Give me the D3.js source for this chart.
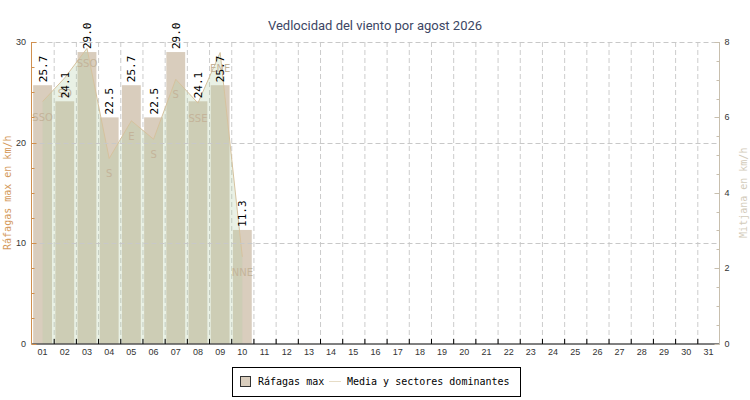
<!DOCTYPE html>
<html>
<head>
<meta charset="utf-8">
<script src="https://cdn.jsdelivr.net/npm/d3@7"></script>
<style>
  html, body { margin: 0; padding: 0; background: #fff; }
  svg { display: block; }
</style>
</head>
<body>
<svg id="chart" width="750" height="400"></svg>
<script>
// ---- data ----
const days = Array.from({length: 31}, (_, i) => String(i + 1).padStart(2, "0"));
const gustDays = ["01","02","03","04","05","06","07","08","09","10"];
const gustValues = [25.7, 24.1, 29.0, 22.5, 25.7, 22.5, 29.0, 24.1, 25.7, 11.3];
const meanValues = [6.42, 7.05, 7.83, 4.91, 5.91, 5.42, 7.01, 6.38, 7.72, 2.30];
const sectors = ["SSO", "SO", "SSO", "S", "E", "S", "S", "SSE", "ENE", "NNE"];
const leftTicks = [0, 10, 20, 30];
const rightTicks = [0, 2, 4, 6, 8];
const titleText = "Vedlocidad del viento por agost 2026";
const leftTitle = "Ráfagas max en km/h";
const rightTitle = "Mitjana en km/h";
const legendLabels = ["Ráfagas max", "Media y sectores dominantes"];

// ---- layout ----
const svg = d3.select("#chart");
const L = 31.5, R = 719.5, T = 42, B = 343.5;
const mono = "'DejaVu Sans Mono', monospace";

const x = d3.scaleBand().domain(days).range([L, R]).paddingInner(0.15).paddingOuter(0.075);
const xs = d3.scaleBand().domain(days).range([L, R]); // slots
const yL = d3.scaleLinear().domain([0, 30]).range([B, T]);
const yR = d3.scaleLinear().domain([0, 8]).range([B, T]);

// title
svg.append("text").attr("x", 375).attr("y", 30).attr("text-anchor", "middle")
  .attr("font-family", "Roboto, sans-serif").attr("font-size", 13).attr("fill", "#3c4664")
  .text(titleText);

// vertical grid
svg.append("g").selectAll("line").data(days.slice(1)).join("line")
  .attr("x1", d => xs(d) + 0.5).attr("x2", d => xs(d) + 0.5)
  .attr("y1", T).attr("y2", B)
  .attr("stroke", "#cccccc").attr("stroke-dasharray", "5,3");

// bars
svg.append("g").selectAll("rect").data(gustDays).join("rect")
  .attr("x", d => x(d)).attr("width", x.bandwidth())
  .attr("y", (d, i) => yL(gustValues[i])).attr("height", (d, i) => B - yL(gustValues[i]))
  .attr("fill", "#d9cdbd");

// area (right axis)
const pts = gustDays.map((d, i) => [xs(d) + xs.bandwidth() / 2, meanValues[i]]);
svg.append("path").datum(pts)
  .attr("d", d3.area().x(p => p[0]).y0(B).y1(p => yR(p[1])))
  .attr("fill", "rgb(175,203,160)").attr("fill-opacity", 0.28);
svg.append("path").datum(pts)
  .attr("d", d3.line().x(p => p[0]).y(p => yR(p[1])))
  .attr("fill", "none").attr("stroke", "#d6c29e").attr("stroke-width", 1);

// horizontal grid
svg.append("g").selectAll("line").data(leftTicks.filter(v => v > 0)).join("line")
  .attr("x1", L).attr("x2", R).attr("y1", v => Math.round(yL(v)) + 0.5).attr("y2", v => Math.round(yL(v)) + 0.5)
  .attr("stroke", "#c8c8c8").attr("stroke-dasharray", "5,3");

// sector labels
svg.append("g").selectAll("text").data(gustDays).join("text")
  .attr("x", (d, i) => pts[i][0]).attr("y", (d, i) => yR(meanValues[i]) + 19)
  .attr("text-anchor", "middle").attr("font-family", "'DejaVu Sans', sans-serif").attr("font-size", 10)
  .attr("fill", "#c4b49a").text((d, i) => sectors[i]);

// value labels
svg.append("g").selectAll("text").data(gustDays).join("text")
  .attr("transform", (d, i) => `translate(${x(d) + x.bandwidth() / 2 + 4},${yL(gustValues[i]) - 3}) rotate(-90)`)
  .attr("font-family", mono).attr("font-size", 11).attr("fill", "#000")
  .text((d, i) => gustValues[i].toFixed(1));

// x axis
const gx = svg.append("g").attr("transform", `translate(0,${B + 0.5})`);
gx.append("line").attr("x1", L).attr("x2", R).attr("stroke", "#000");
gx.selectAll("line.t").data(days.slice(1)).join("line").attr("class", "t")
  .attr("x1", d => xs(d) + 0.5).attr("x2", d => xs(d) + 0.5).attr("y1", 0).attr("y2", -5).attr("stroke", "#000");
gx.selectAll("text").data(days).join("text")
  .attr("x", d => xs(d) + xs.bandwidth() / 2).attr("y", 11)
  .attr("text-anchor", "middle").attr("font-family", "'Liberation Sans', sans-serif").attr("font-size", 9)
  .attr("fill", "#333").text(d => d);

// left axis
const gl = svg.append("g");
gl.append("line").attr("x1", L).attr("x2", L).attr("y1", T).attr("y2", B + 0.5).attr("stroke", "#d09050");
gl.selectAll("line.t").data(d3.range(0, 30.01, 2.5)).join("line").attr("class", "t")
  .attr("x1", L).attr("x2", v => L + (v % 10 === 0 ? 5 : 3))
  .attr("y1", v => Math.round(yL(v)) + 0.5).attr("y2", v => Math.round(yL(v)) + 0.5).attr("stroke", "#d09050");
gl.selectAll("text").data(leftTicks).join("text")
  .attr("x", 26).attr("y", v => yL(v) + 3).attr("text-anchor", "end")
  .attr("font-family", "'Liberation Sans', sans-serif").attr("font-size", 9).attr("fill", "#333").text(v => v);
svg.append("text").attr("transform", `translate(11,${(T + B) / 2}) rotate(-90)`).attr("text-anchor", "middle")
  .attr("font-family", mono).attr("font-size", 10).attr("fill", "#d49a5c").text(leftTitle);

// right axis
const gr = svg.append("g");
gr.append("line").attr("x1", R).attr("x2", R).attr("y1", T).attr("y2", B + 0.5).attr("stroke", "#c8bfae");
gr.selectAll("line.t").data(d3.range(0, 8.01, 0.5)).join("line").attr("class", "t")
  .attr("x1", R).attr("x2", v => R - (v % 2 === 0 ? 5 : 3))
  .attr("y1", v => Math.round(yR(v)) + 0.5).attr("y2", v => Math.round(yR(v)) + 0.5).attr("stroke", "#c8bfae");
gr.selectAll("text").data(rightTicks).join("text")
  .attr("x", R + 5).attr("y", v => yR(v) + 3)
  .attr("font-family", "'Liberation Sans', sans-serif").attr("font-size", 9).attr("fill", "#333").text(v => v);
svg.append("text").attr("transform", `translate(747,${(T + B) / 2}) rotate(-90)`).attr("text-anchor", "middle")
  .attr("font-family", mono).attr("font-size", 10).attr("fill", "#d3cbbb").text(rightTitle);

// legend
const lg = svg.append("g");
lg.append("rect").attr("x", 232.5).attr("y", 367.5).attr("width", 288).attr("height", 29)
  .attr("fill", "#fff").attr("stroke", "#000");
lg.append("rect").attr("x", 240.5).attr("y", 376.5).attr("width", 10).attr("height", 10)
  .attr("fill", "#d9cdbd").attr("stroke", "#333");
lg.append("text").attr("x", 258).attr("y", 385).attr("font-family", mono).attr("font-size", 10)
  .attr("fill", "#000").text(legendLabels[0]);
lg.append("line").attr("x1", 329).attr("x2", 341).attr("y1", 381.5).attr("y2", 381.5).attr("stroke", "#e6dcc6");
lg.append("text").attr("x", 347).attr("y", 385).attr("font-family", mono).attr("font-size", 10)
  .attr("fill", "#000").text(legendLabels[1]);
</script>
</body>
</html>
